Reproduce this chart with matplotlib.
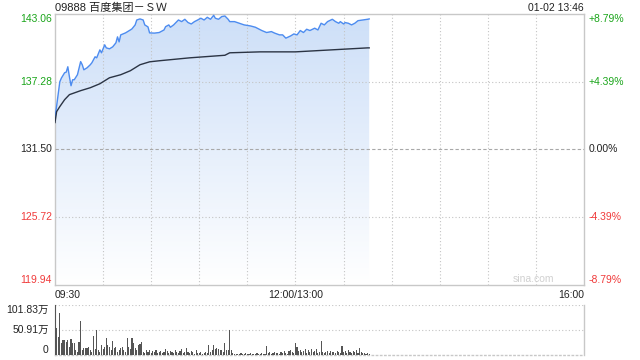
import numpy as np
import matplotlib
matplotlib.use('Agg')
import matplotlib.pyplot as plt
from matplotlib.colors import LinearSegmentedColormap

plt.rcParams['font.family'] = ['Liberation Sans', 'Noto Sans CJK SC', 'DejaVu Sans']

# price trace (minutes since 09:30, trading minutes only)
price_min = [0, 1, 3, 4, 6, 7, 8, 9, 10, 11, 12, 14, 16, 17, 18, 20, 22, 23, 25, 26,
             28, 29, 31, 32, 34, 36, 38, 39, 40, 41, 44, 47, 48, 50, 51, 53, 55, 56, 58, 59,
             62, 65, 68, 69, 71, 72, 74, 77, 79, 81, 83, 85, 87, 89, 91, 93, 95, 97, 99, 100,
             102, 104, 106, 108, 109, 112, 115, 118, 122, 125, 129, 132, 135, 137, 140, 142, 144, 147, 149, 151,
             153, 155, 157, 159, 162, 164, 166, 168, 170, 173, 175, 177, 178, 180, 181, 183, 185, 187, 189, 192,
             195, 196]
price = [134.2, 135.2, 137.28, 137.6, 138.05, 138.1, 138.56, 137.7, 136.94, 137.45, 137.45, 137.88, 139.0, 138.73, 138.3, 138.47, 138.73, 138.9, 139.41, 139.32,
         140.0, 139.75, 140.43, 140.17, 140.09, 140.26, 140.6, 141.11, 140.68, 141.28, 141.45, 141.7, 141.79, 142.13, 142.55, 142.64, 142.55, 142.13, 141.96, 141.45,
         141.43, 141.48, 141.7, 141.98, 142.13, 141.93, 142.13, 142.55, 142.41, 142.61, 142.33, 142.21, 142.41, 142.55, 142.7, 142.55, 142.78, 142.61, 142.95, 142.7,
         142.61, 142.84, 142.89, 142.61, 142.41, 142.41, 142.27, 142.13, 142.04, 141.93, 141.65, 141.48, 141.56, 141.43, 141.28, 141.28, 141.0, 141.19, 141.36, 141.28,
         141.65, 141.48, 141.76, 141.65, 141.85, 141.7, 142.27, 142.13, 142.41, 142.61, 142.41, 142.27, 142.41, 142.21, 142.33, 142.27, 142.13, 142.27, 142.49, 142.55,
         142.61, 142.64]

avg_min = [0, 1, 3, 6, 9, 16, 22, 28, 34, 41, 47, 53, 59, 65, 84, 106, 109, 128, 150, 195, 196]
avg_price = [133.8, 134.73, 135.16, 135.75, 136.18, 136.52, 136.77, 137.11, 137.62, 137.88, 138.22, 138.73, 138.98, 139.07,
             139.32, 139.54, 139.75, 139.83, 139.83, 140.17, 140.17]

# volume per minute (万股)
volume = [102, 56, 37, 86, 25, 31, 31, 27, 31, 17,
          32, 24, 24, 10, 7, 27, 69, 10, 14, 14,
          14, 17, 10, 7, 39, 12, 51, 10, 7, 20,
          12, 16, 34, 20, 16, 10, 29, 14, 16, 7,
          10, 14, 17, 10, 7, 34, 16, 12, 34, 24,
          14, 10, 20, 22, 27, 7, 5, 10, 7, 10,
          5, 8, 6, 10, 4, 7, 9, 5, 6, 12,
          8, 4, 9, 7, 5, 10, 6, 4, 8, 12,
          5, 7, 14, 6, 4, 9, 6, 3, 10, 5,
          4, 6, 3, 5, 7, 4, 20, 6, 10, 20,
          12, 14, 12, 10, 10, 6, 24, 10, 10, 50,
          10, 5, 3, 2, 3, 2, 4, 2, 3, 4,
          3, 2, 4, 3, 2, 3, 5, 2, 3, 4,
          3, 2, 18, 4, 6, 3, 5, 7, 4, 5,
          3, 6, 4, 8, 5, 3, 8, 10, 6, 4,
          25, 16, 8, 10, 6, 8, 12, 5, 10, 7,
          12, 6, 8, 12, 5, 7, 29, 7, 5, 6,
          8, 5, 9, 6, 7, 4, 8, 6, 5, 18,
          6, 8, 5, 10, 7, 4, 8, 6, 10, 5,
          14, 6, 4, 5, 3, 4, 3]

prev_close = 131.50
y_ticks = [119.94, 125.72, 131.50, 137.28, 143.06]
pct_labels = ['-8.79%', '-4.39%', '0.00%', '+4.39%', '+8.79%']
tick_colors = ['#f03a3a', '#f03a3a', '#222222', '#1aa51a', '#1aa51a']
vol_ticks = [0, 50.91, 101.83]
vol_labels = ['0', '50.91万', '101.83万']
total_min = 330

fig = plt.figure(figsize=(6.4, 3.6), dpi=100)
ax = fig.add_axes([55 / 640, 1 - 285 / 360, 529 / 640, 271 / 360])
axv = fig.add_axes([55 / 640, 1 - 355 / 360, 529 / 640, 50 / 360])

border = '#c8c8c8'
for a in (ax, axv):
    for s in a.spines.values():
        s.set_color(border)
        s.set_linewidth(1)
    a.set_xticks([])
    a.set_yticks([])
    a.set_xlim(0, total_min)

ax.set_ylim(y_ticks[0], y_ticks[-1])

# grid (drawn above the fill, below the lines)
for m in range(30, total_min, 30):
    ax.axvline(m, color='#c4c4c4', lw=0.8, ls=(0, (1, 2)), zorder=3)
for v in y_ticks[1:-1]:
    if v == prev_close:
        ax.axhline(v, color='#a8a8a8', lw=0.8, ls=(0, (3, 2)), zorder=3)
    else:
        ax.axhline(v, color='#c4c4c4', lw=0.8, ls=(0, (1, 2)), zorder=3)

# gradient area under price
cmap = LinearSegmentedColormap.from_list('g', ['#ffffff', '#cddff8'])
grad = np.linspace(0, 1, 256).reshape(-1, 1)
im = ax.imshow(grad, cmap=cmap, origin='lower', aspect='auto',
               extent=[0, total_min, y_ticks[0], y_ticks[-1]], zorder=2)
poly = ax.fill_between(price_min, price, y_ticks[0], facecolor='none', edgecolor='none')
im.set_clip_path(poly.get_paths()[0], transform=ax.transData)
ax.set_xlim(0, total_min)
ax.set_ylim(y_ticks[0], y_ticks[-1])

ax.plot(price_min, price, color='#4d8cf0', lw=1.0, zorder=4)
ax.plot(avg_min, avg_price, color='#2b3444', lw=1.0, zorder=4)

# y labels
for i, (v, p, c) in enumerate(zip(y_ticks, pct_labels, tick_colors)):
    va = 'bottom' if i == 0 else ('top' if i == len(y_ticks) - 1 else 'center')
    ax.text(-0.006, v, f'{v:.2f}', transform=ax.get_yaxis_transform(), ha='right', va=va,
            color=c, fontsize=7.5)
    ax.text(1.009, v, p, transform=ax.get_yaxis_transform(), ha='left', va=va,
            color=c, fontsize=7.5)

# x labels
ax.text(0, -0.02, '09:30', transform=ax.transAxes, ha='left', va='top', fontsize=7.5, color='#222222')
ax.text(150 / total_min, -0.02, '12:00/13:00', transform=ax.transAxes, ha='center', va='top',
        fontsize=7.5, color='#222222')
ax.text(1, -0.02, '16:00', transform=ax.transAxes, ha='right', va='top', fontsize=7.5, color='#222222')

ax.text(0.905, 0.005, 'sina.com', transform=ax.transAxes, ha='center', va='bottom',
        fontsize=7.5, color='#d0d0d0')

fig.text(55 / 640, 1 - 8 / 360, '09888 百度集团－ＳＷ', ha='left', va='center', fontsize=8, color='#222222')
fig.text(584 / 640, 1 - 8 / 360, '01-02 13:46', ha='right', va='center', fontsize=7.5, color='#222222')

# volume
axv.set_ylim(0, vol_ticks[-1])
for v in vol_ticks[1:]:
    axv.axhline(v, color='#c4c4c4', lw=0.8, ls=(0, (1, 2)), zorder=1)
axv.spines['top'].set_visible(False)
axv.spines['bottom'].set_linestyle((0, (1, 2)))
axv.bar(np.arange(len(volume)), volume, width=0.7, color='#555555', zorder=3)
for i, (v, lab) in enumerate(zip(vol_ticks, vol_labels)):
    va = 'bottom' if i == 0 else ('top' if i == len(vol_ticks) - 1 else 'center')
    axv.text(-0.012, v, lab, transform=axv.get_yaxis_transform(), ha='right', va=va,
             fontsize=7.5, color='#222222')

fig.savefig('out.png', dpi=100, facecolor='white')
